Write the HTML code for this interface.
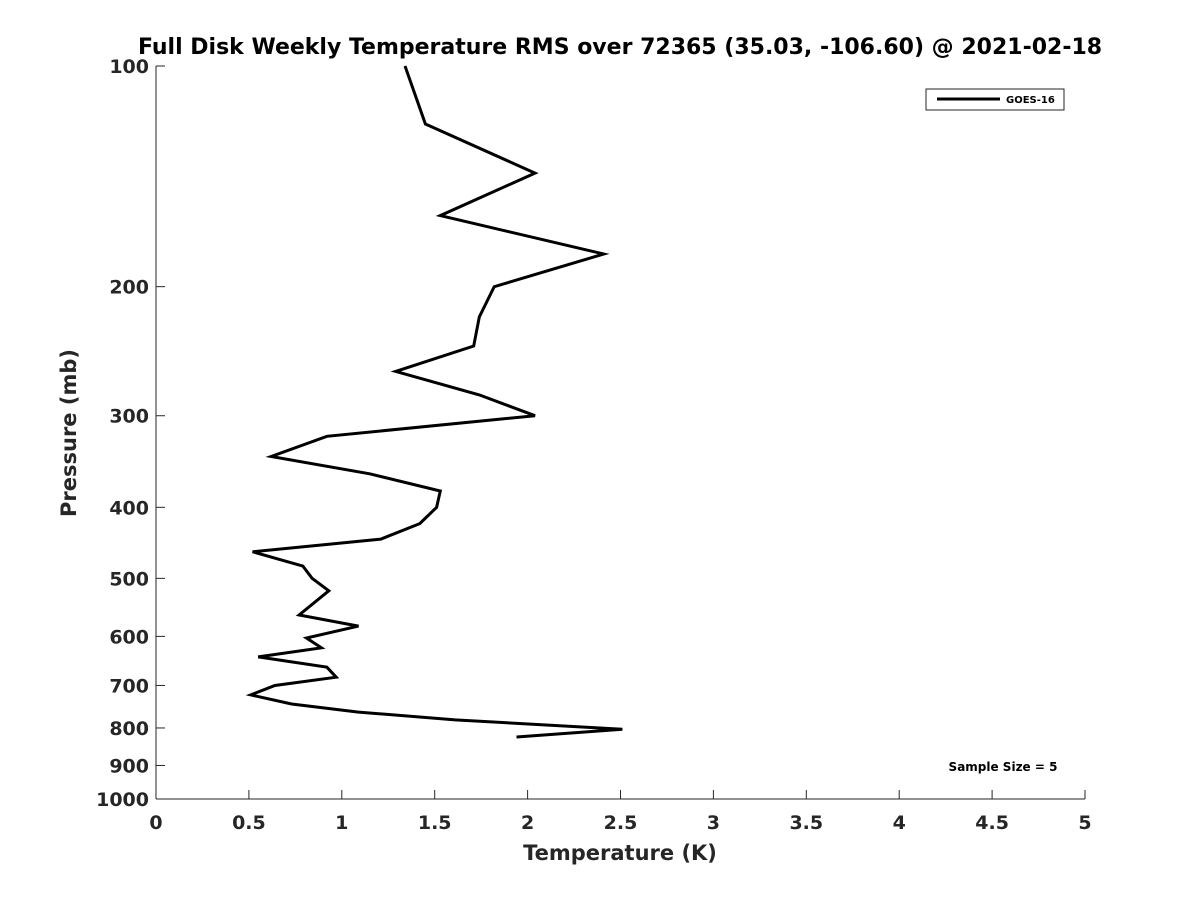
<!DOCTYPE html>
<html><head><meta charset="utf-8"><style>
body{margin:0;background:#fff;}
svg{display:block;font-family:"DejaVu Sans","Liberation Sans",sans-serif;font-weight:bold;}
</style></head><body>
<svg id="chart" width="1200" height="900" viewBox="0 0 1200 900" xmlns="http://www.w3.org/2000/svg">
<rect width="1200" height="900" fill="#fff"/>
<text x="620" y="54" text-anchor="middle" font-size="22" fill="#000">Full Disk Weekly Temperature RMS over 72365 (35.03, -106.60) @ 2021-02-18</text>
<g id="axes"></g>
<text x="620" y="860" text-anchor="middle" font-size="21" fill="#262626">Temperature (K)</text>
<text transform="translate(76,433) rotate(-90)" text-anchor="middle" font-size="21" fill="#262626">Pressure (mb)</text>
<g>
<rect x="926" y="89" width="138" height="21" fill="#fff" stroke="#262626" stroke-width="1"/>
<line x1="937" y1="99" x2="1000" y2="99" stroke="#000" stroke-width="3"/>
<text x="1006" y="103" font-size="10" fill="#000">GOES-16</text>
</g>
<text x="1003" y="771" text-anchor="middle" font-size="12" fill="#000">Sample Size = 5</text>
</svg>
<script>
const temps = [1.34,1.45,2.04,1.53,2.41,1.82,1.74,1.71,1.29,1.74,2.04,0.92,0.62,1.15,1.53,1.51,1.42,1.21,0.52,0.79,0.84,0.93,0.77,1.09,0.81,0.89,0.55,0.92,0.97,0.64,0.51,0.73,1.09,1.61,2.51,1.94];
const pressures = [100,120,140,160,180.5,200,220,241,261,281,300,320,341,360,380,400,421,442,460,481,500,520,561,581,603,622,640,661,682,700,721,742,761,780,803,823];
const xTicks = [0,0.5,1,1.5,2,2.5,3,3.5,4,4.5,5];
const yTicks = [100,200,300,400,500,600,700,800,900,1000];
const X0=156,X1=1085,Y0=66,Y1=799;
const xs = t => X0 + (t/5)*(X1-X0);
const ys = p => Y0 + Math.log10(p/100)*(Y1-Y0);
const NS="http://www.w3.org/2000/svg";
const svg=document.getElementById('chart');
const g=document.getElementById('axes');
function mk(tag,attrs,parent){const e=document.createElementNS(NS,tag);for(const k in attrs)e.setAttribute(k,attrs[k]);(parent||g).appendChild(e);return e;}
const xa=mk('line',{x1:X0,y1:Y1,x2:X1,y2:Y1,stroke:'#262626','stroke-width':1});


const ya=mk('line',{x1:X0,y1:Y0,x2:X0,y2:Y1,stroke:'#262626','stroke-width':1});


xTicks.forEach(t=>{
  const x=xs(t);
  mk('line',{x1:x,y1:Y1,x2:x,y2:Y1-9,stroke:'#262626'});
  const tx=mk('text',{x:x,y:Y1+30,'text-anchor':'middle','font-size':19,fill:'#262626'});
  tx.textContent=String(t);
  
  
});
yTicks.forEach(p=>{
  const y=ys(p);
  mk('line',{x1:X0,y1:y,x2:X0+9,y2:y,stroke:'#262626'});
  const tx=mk('text',{x:X0-7,y:y+7,'text-anchor':'end','font-size':19,fill:'#262626'});
  tx.textContent=String(p);
  
  
});
const pts=temps.map((t,i)=>xs(t).toFixed(1)+','+ys(pressures[i]).toFixed(1)).join(' ');
const line=mk('polyline',{points:pts,fill:'none',stroke:'#000','stroke-width':3,'stroke-linejoin':'miter'});


</script>
</body></html>
